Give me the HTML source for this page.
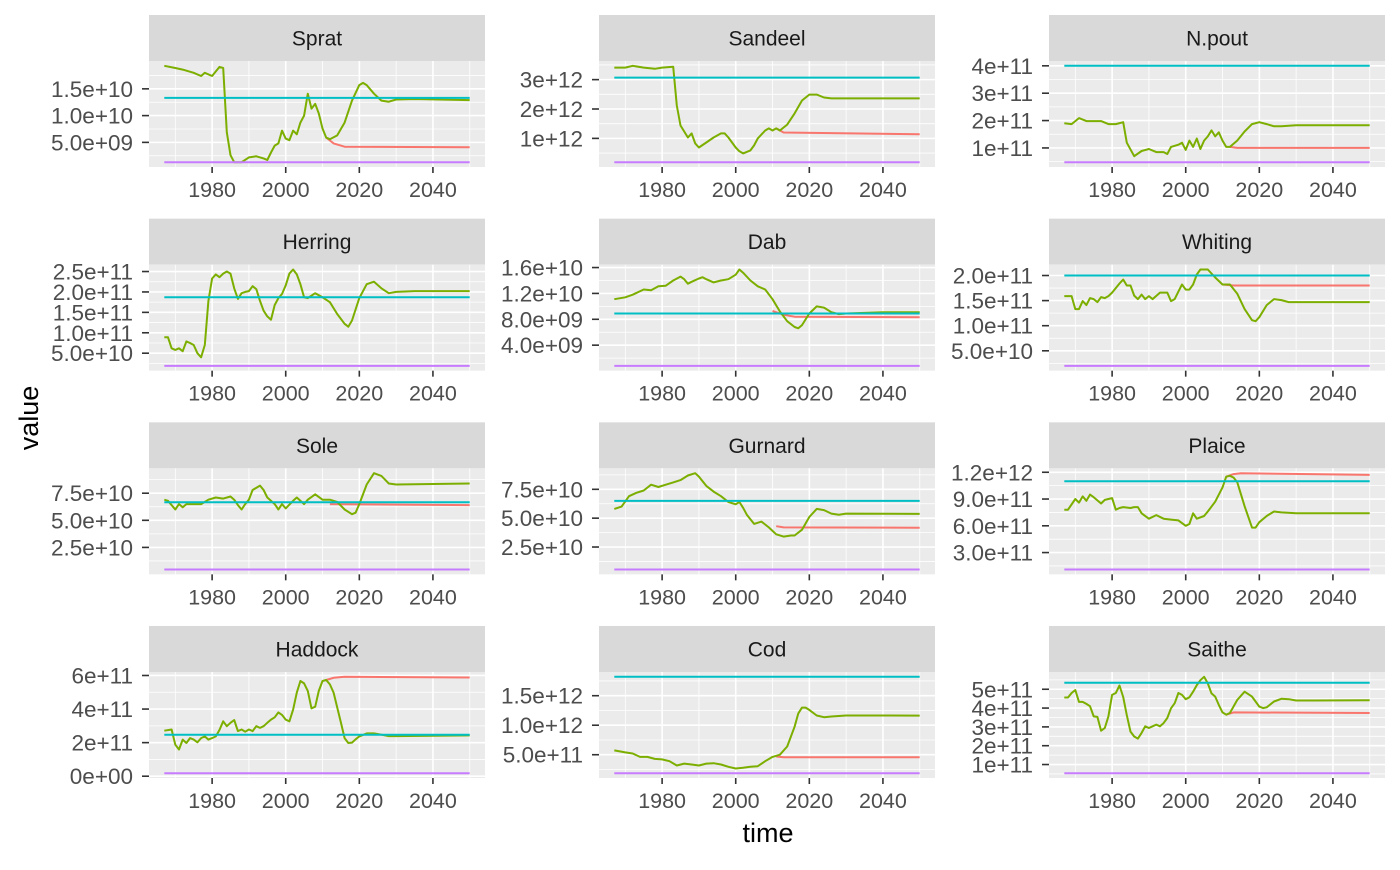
<!DOCTYPE html>
<html><head><meta charset="utf-8"><title>Facet time series</title>
<style>
html,body{margin:0;padding:0;background:#fff;}
svg text{font-family:"Liberation Sans",Arial,sans-serif;}
</style></head>
<body>
<svg id="chart" width="1400" height="865" viewBox="0 0 1400 865" xmlns="http://www.w3.org/2000/svg">
<text x="0" y="0" transform="translate(38,418) rotate(-90)" text-anchor="middle" font-size="27" fill="#000">value</text>
<text x="768" y="842" text-anchor="middle" font-size="27" fill="#000">time</text>
</svg>
<script>
// ---- data (values in the per-panel unit shown by tick labels) ----
const panelNames = ["Sprat","Sandeel","N.pout","Herring","Dab","Whiting","Sole","Gurnard","Plaice","Haddock","Cod","Saithe"];
const xTickYears = [1980,2000,2020,2040];
const xTickLabels = ["1980","2000","2020","2040"];
const xMinorYears = [1970,1990,2010,2030,2050];
const yearStart = 1967;
const yearEnd = 2050;

const spratTicks = [5,10,15];
const spratTickLabels = ["5.0e+09","1.0e+10","1.5e+10"];
const spratGreen = [[1967,19.3],[1970,18.9],[1972,18.6],[1975,18],[1977,17.4],[1978,18],[1980,17.4],[1982,19.1],[1983,18.9],[1984,6.9],[1985,2.6],[1986,1.3],[1988,1.3],[1990,2.2],[1992,2.4],[1994,2.0],[1995,1.7],[1996,3.1],[1997,4.4],[1998,4.8],[1999,7.2],[2000,5.7],[2001,5.4],[2002,7.2],[2003,6.5],[2004,8.7],[2005,10],[2006,14.1],[2007,11.3],[2008,12.2],[2009,10.4],[2010,7.6],[2011,5.9],[2012,5.6],[2014,6.3],[2016,8.7],[2018,12.8],[2020,15.7],[2021,16.1],[2022,15.7],[2024,14.1],[2026,12.8],[2028,12.6],[2030,13],[2035,13.1],[2050,12.9]];
const spratRed = [[2011,5.9],[2013,4.8],[2016,4.2],[2050,4.1]];
const spratCyan = 13.3;
const spratPurple = 1.3;

const sandeelTicks = [1,2,3];
const sandeelTickLabels = ["1e+12","2e+12","3e+12"];
const sandeelGreen = [[1967,3.41],[1970,3.41],[1972,3.47],[1975,3.41],[1978,3.37],[1980,3.41],[1983,3.44],[1984,2.12],[1985,1.44],[1987,1.03],[1988,1.17],[1989,0.83],[1990,0.69],[1992,0.86],[1994,1.03],[1996,1.17],[1997,1.17],[1998,1.03],[2000,0.69],[2001,0.56],[2002,0.49],[2004,0.59],[2005,0.76],[2006,1.0],[2008,1.27],[2009,1.34],[2010,1.27],[2011,1.34],[2012,1.27],[2014,1.47],[2016,1.85],[2018,2.29],[2020,2.49],[2022,2.49],[2024,2.39],[2026,2.36],[2030,2.36],[2050,2.36]];
const sandeelRed = [[2011,1.34],[2013,1.2],[2050,1.14]];
const sandeelCyan = 3.07;
const sandeelPurple = 0.19;

const npoutTicks = [1,2,3,4];
const npoutTickLabels = ["1e+11","2e+11","3e+11","4e+11"];
const npoutGreen = [[1967,1.9],[1969,1.87],[1971,2.09],[1973,1.98],[1975,1.98],[1977,1.98],[1979,1.87],[1981,1.87],[1983,1.94],[1984,1.19],[1986,0.7],[1988,0.89],[1990,0.96],[1992,0.85],[1994,0.85],[1995,0.78],[1996,1.04],[1998,1.12],[1999,1.19],[2000,0.93],[2001,1.27],[2002,1.04],[2003,1.34],[2004,0.96],[2005,1.27],[2006,1.42],[2007,1.64],[2008,1.42],[2009,1.57],[2010,1.27],[2011,1.04],[2012,1.04],[2014,1.27],[2016,1.6],[2018,1.87],[2020,1.94],[2022,1.87],[2024,1.79],[2026,1.79],[2030,1.83],[2050,1.83]];
const npoutRed = [[2012,1.04],[2014,1.0],[2050,1.0]];
const npoutCyan = 4.0;
const npoutPurple = 0.48;

const herringTicks = [5,10,15,20,25];
const herringTickLabels = ["5.0e+10","1.0e+11","1.5e+11","2.0e+11","2.5e+11"];
const herringGreen = [[1967,8.9],[1968,8.9],[1969,6.2],[1970,5.8],[1971,6.2],[1972,5.5],[1973,7.9],[1974,7.5],[1975,7.0],[1976,5.0],[1977,4.0],[1978,7.0],[1979,17.8],[1980,23.3],[1981,24.3],[1982,23.6],[1983,24.5],[1984,25],[1985,24.5],[1986,20.9],[1987,18.3],[1988,19.7],[1989,20.0],[1990,20.2],[1991,21.4],[1992,20.7],[1993,17.8],[1994,15.4],[1995,14.0],[1996,13.2],[1997,16.8],[1998,18.5],[1999,19.5],[2000,21.6],[2001,24.5],[2002,25.5],[2003,24.3],[2004,21.9],[2005,18.7],[2006,18.5],[2008,19.7],[2010,18.7],[2012,17.5],[2014,14.6],[2016,12.2],[2017,11.5],[2018,13.0],[2020,18.5],[2022,21.9],[2024,22.5],[2026,20.9],[2028,19.7],[2030,20.0],[2035,20.2],[2050,20.2]];
const herringRed = [];
const herringCyan = 18.7;
const herringPurple = 1.9;

const dabTicks = [4,8,12,16];
const dabTickLabels = ["4.0e+09","8.0e+09","1.2e+10","1.6e+10"];
const dabGreen = [[1967,11.1],[1970,11.4],[1972,11.8],[1975,12.6],[1977,12.5],[1979,13.1],[1981,13.2],[1983,14.0],[1985,14.6],[1986,14.2],[1987,13.5],[1988,13.8],[1990,14.3],[1991,14.5],[1992,14.2],[1994,13.7],[1996,14.0],[1998,14.2],[2000,14.9],[2001,15.7],[2002,15.2],[2004,14.0],[2006,13.1],[2008,12.6],[2010,11.1],[2012,9.2],[2014,7.7],[2016,6.8],[2017,6.6],[2018,7.1],[2020,8.9],[2022,10.0],[2024,9.8],[2026,9.1],[2028,8.8],[2030,8.9],[2040,9.1],[2050,9.1]];
const dabRed = [[2010,9.3],[2013,8.7],[2016,8.4],[2050,8.3]];
const dabCyan = 8.9;
const dabPurple = 0.8;

const whitingTicks = [5,10,15,20];
const whitingTickLabels = ["5.0e+10","1.0e+11","1.5e+11","2.0e+11"];
const whitingGreen = [[1967,15.9],[1969,15.9],[1970,13.3],[1971,13.3],[1972,14.9],[1973,14.1],[1974,15.5],[1975,15.3],[1976,14.7],[1977,15.7],[1978,15.5],[1979,15.9],[1980,16.6],[1982,18.4],[1983,19.2],[1984,18.0],[1985,18.0],[1986,16.0],[1987,15.3],[1988,16.2],[1989,15.3],[1990,15.9],[1991,15.3],[1993,16.6],[1995,16.6],[1996,14.9],[1997,15.3],[1998,16.8],[1999,18.2],[2000,17.2],[2001,17.2],[2002,18.2],[2003,20.2],[2004,21.2],[2006,21.2],[2008,19.6],[2010,18.2],[2012,18.2],[2014,16.4],[2016,13.3],[2018,11.1],[2019,10.9],[2020,11.7],[2022,14.1],[2024,15.3],[2026,15.1],[2028,14.7],[2030,14.7],[2050,14.7]];
const whitingRed = [[2010,18.2],[2013,18.0],[2050,18.0]];
const whitingCyan = 20;
const whitingPurple = 2.0;

const soleTicks = [2.5,5,7.5];
const soleTickLabels = ["2.5e+10","5.0e+10","7.5e+10"];
const soleGreen = [[1967,6.9],[1968,6.8],[1970,6.0],[1971,6.5],[1972,6.2],[1973,6.5],[1975,6.5],[1977,6.5],[1979,6.9],[1981,7.1],[1983,7.0],[1985,7.2],[1986,6.9],[1987,6.4],[1988,6.0],[1989,6.5],[1990,6.9],[1991,7.8],[1993,8.2],[1994,7.8],[1995,7.1],[1997,6.5],[1998,6.0],[1999,6.5],[2000,6.1],[2002,6.8],[2003,7.1],[2005,6.5],[2006,6.9],[2008,7.4],[2010,6.9],[2012,6.9],[2014,6.7],[2016,6.0],[2018,5.56],[2019,5.7],[2020,6.5],[2022,8.3],[2024,9.35],[2026,9.1],[2028,8.4],[2030,8.3],[2050,8.4]];
const soleRed = [[2012,6.5],[2050,6.4]];
const soleCyan = 6.67;
const solePurple = 0.46;

const gurnardTicks = [2.5,5,7.5];
const gurnardTickLabels = ["2.5e+10","5.0e+10","7.5e+10"];
const gurnardGreen = [[1967,5.8],[1969,6.0],[1971,6.9],[1973,7.2],[1975,7.4],[1977,7.9],[1979,7.7],[1981,7.9],[1983,8.1],[1985,8.3],[1987,8.7],[1989,8.9],[1990,8.6],[1992,7.8],[1994,7.3],[1996,6.9],[1998,6.4],[2000,6.2],[2001,6.4],[2002,5.9],[2003,5.3],[2005,4.5],[2007,4.7],[2009,4.2],[2011,3.6],[2013,3.4],[2015,3.5],[2016,3.5],[2018,4.0],[2020,5.1],[2022,5.8],[2024,5.7],[2026,5.4],[2028,5.3],[2030,5.4],[2050,5.37]];
const gurnardRed = [[2011,4.3],[2013,4.2],[2050,4.17]];
const gurnardCyan = 6.5;
const gurnardPurple = 0.55;

const plaiceTicks = [3,6,9,12];
const plaiceTickLabels = ["3.0e+11","6.0e+11","9.0e+11","1.2e+12"];
const plaiceGreen = [[1967,7.8],[1968,7.8],[1970,9.0],[1971,8.6],[1972,9.3],[1973,8.8],[1974,9.5],[1975,9.2],[1977,8.5],[1978,8.9],[1980,9.1],[1981,7.8],[1982,8.0],[1983,8.1],[1985,8.0],[1986,8.1],[1987,8.1],[1988,7.4],[1990,6.8],[1992,7.2],[1994,6.8],[1996,6.7],[1998,6.6],[2000,6.0],[2001,6.2],[2002,7.4],[2003,6.8],[2005,7.1],[2006,7.6],[2008,8.7],[2010,10.3],[2011,11.5],[2012,11.6],[2013,11.4],[2014,10.9],[2016,8.2],[2018,5.8],[2019,5.8],[2020,6.4],[2022,7.1],[2024,7.6],[2026,7.5],[2030,7.4],[2050,7.4]];
const plaiceRed = [[2011,11.5],[2013,11.8],[2015,11.9],[2050,11.7]];
const plaiceCyan = 11.0;
const plaicePurple = 1.1;

const haddockTicks = [0,2,4,6];
const haddockTickLabels = ["0e+00","2e+11","4e+11","6e+11"];
const haddockGreen = [[1967,2.71],[1969,2.78],[1970,1.88],[1971,1.59],[1972,2.18],[1973,1.98],[1974,2.27],[1975,2.18],[1976,2.02],[1977,2.27],[1978,2.37],[1979,2.18],[1980,2.27],[1981,2.37],[1982,2.76],[1983,3.27],[1984,2.98],[1985,3.18],[1986,3.35],[1987,2.69],[1988,2.78],[1989,2.65],[1990,2.78],[1991,2.69],[1992,2.98],[1993,2.88],[1994,2.98],[1995,3.18],[1996,3.37],[1997,3.51],[1998,3.8],[1999,3.65],[2000,3.37],[2001,3.27],[2002,3.96],[2003,4.98],[2004,5.67],[2005,5.53],[2006,5.08],[2007,4.04],[2008,4.14],[2009,5.08],[2010,5.67],[2011,5.73],[2012,5.47],[2013,4.98],[2014,4.1],[2015,3.2],[2016,2.27],[2017,1.98],[2018,2.0],[2019,2.2],[2020,2.37],[2022,2.55],[2024,2.55],[2026,2.47],[2028,2.39],[2030,2.39],[2050,2.43]];
const haddockRed = [[2011,5.73],[2013,5.86],[2016,5.92],[2050,5.88]];
const haddockCyan = 2.47;
const haddockPurple = 0.18;

const codTicks = [5,10,15];
const codTickLabels = ["5.0e+11","1.0e+12","1.5e+12"];
const codGreen = [[1967,5.74],[1970,5.4],[1972,5.2],[1974,4.63],[1976,4.63],[1978,4.3],[1980,4.2],[1982,3.9],[1984,3.17],[1986,3.5],[1988,3.34],[1990,3.17],[1992,3.5],[1994,3.56],[1996,3.34],[1998,2.95],[2000,2.66],[2002,2.78],[2004,2.95],[2006,3.06],[2008,3.9],[2010,4.63],[2012,5.0],[2014,6.4],[2016,9.75],[2017,12.0],[2018,12.98],[2019,12.98],[2020,12.6],[2022,11.64],[2024,11.36],[2026,11.47],[2030,11.64],[2050,11.63]];
const codRed = [[2011,4.7],[2013,4.56],[2050,4.56]];
const codCyan = 18.2;
const codPurple = 1.87;

const saitheTicks = [1,2,3,4,5];
const saitheTickLabels = ["1e+11","2e+11","3e+11","4e+11","5e+11"];
const saitheGreen = [[1967,4.56],[1968,4.56],[1969,4.8],[1970,4.96],[1971,4.33],[1972,4.33],[1973,4.22],[1974,4.1],[1975,3.56],[1976,3.53],[1977,2.8],[1978,2.94],[1979,3.56],[1980,4.7],[1981,4.8],[1982,5.2],[1983,4.59],[1984,3.62],[1985,2.75],[1986,2.49],[1987,2.38],[1988,2.68],[1989,3.03],[1990,2.94],[1991,3.03],[1992,3.12],[1993,3.03],[1994,3.2],[1995,3.47],[1996,3.99],[1997,4.26],[1998,4.8],[1999,4.7],[2000,4.47],[2001,4.57],[2002,4.87],[2003,5.22],[2004,5.48],[2005,5.66],[2006,5.31],[2007,4.78],[2008,4.61],[2009,4.17],[2010,3.77],[2011,3.65],[2012,3.74],[2014,4.43],[2016,4.87],[2018,4.61],[2020,4.08],[2021,4.0],[2022,4.04],[2024,4.35],[2026,4.49],[2028,4.47],[2030,4.4],[2035,4.4],[2050,4.42]];
const saitheRed = [[2011,3.65],[2013,3.77],[2050,3.74]];
const saitheCyan = 5.35;
const saithePurple = 0.54;

const panelTicks = [spratTicks,sandeelTicks,npoutTicks,herringTicks,dabTicks,whitingTicks,soleTicks,gurnardTicks,plaiceTicks,haddockTicks,codTicks,saitheTicks];
const panelTickLabels = [spratTickLabels,sandeelTickLabels,npoutTickLabels,herringTickLabels,dabTickLabels,whitingTickLabels,soleTickLabels,gurnardTickLabels,plaiceTickLabels,haddockTickLabels,codTickLabels,saitheTickLabels];
const panelGreen = [spratGreen,sandeelGreen,npoutGreen,herringGreen,dabGreen,whitingGreen,soleGreen,gurnardGreen,plaiceGreen,haddockGreen,codGreen,saitheGreen];
const panelRed = [spratRed,sandeelRed,npoutRed,herringRed,dabRed,whitingRed,soleRed,gurnardRed,plaiceRed,haddockRed,codRed,saitheRed];
const panelCyan = [spratCyan,sandeelCyan,npoutCyan,herringCyan,dabCyan,whitingCyan,soleCyan,gurnardCyan,plaiceCyan,haddockCyan,codCyan,saitheCyan];
const panelPurple = [spratPurple,sandeelPurple,npoutPurple,herringPurple,dabPurple,whitingPurple,solePurple,gurnardPurple,plaicePurple,haddockPurple,codPurple,saithePurple];

// ---- layout ----
const NS = "http://www.w3.org/2000/svg";
const svg = document.getElementById("chart");
const PW = 336, PH = 106, SH = 46;
function mk(tag, attrs, parent){
  const e = document.createElementNS(NS, tag);
  for (const k in attrs) e.setAttribute(k, attrs[k]);
  parent.appendChild(e);
  return e;
}
const xr = yearEnd - yearStart, x0 = yearStart - 0.05*xr, x1 = yearEnd + 0.05*xr;

panelNames.forEach(function(name, i){
  const col = i % 3, row = Math.floor(i / 3);
  const left = 149 + col*450;
  const stripTop = 15 + row*203.67;
  const top = stripTop + SH;
  const g = mk("g", {}, svg);
  
  

  const green = panelGreen[i], red = panelRed[i], cyan = panelCyan[i], purple = panelPurple[i];
  let vals = [cyan, purple];
  green.forEach(p => vals.push(p[1]));
  red.forEach(p => vals.push(p[1]));
  const vmin = Math.min.apply(null, vals), vmax = Math.max.apply(null, vals);
  const vr = vmax - vmin, y0 = vmin - 0.05*vr, y1 = vmax + 0.05*vr;
  const sx = yr => left + (yr - x0) / (x1 - x0) * PW;
  const sy = v => top + PH - (v - y0) / (y1 - y0) * PH;

  const strip = mk("rect", {x:left, y:stripTop, width:PW, height:SH, fill:"#D9D9D9"}, g);
  
  
  const st = mk("text", {x:left+PW/2, y:stripTop+SH/2+7.5, "text-anchor":"middle", "font-size":"21", fill:"#1A1A1A"}, g);
  
  
  st.textContent = name;

  const bg = mk("rect", {x:left, y:top, width:PW, height:PH, fill:"#EBEBEB"}, g);
  
  

  xMinorYears.forEach(yr => {
    const x = sx(yr);
    if (x >= left && x <= left+PW) {
      const l = mk("line", {x1:x, x2:x, y1:top, y2:top+PH, stroke:"#fff", "stroke-width":"0.8"}, g);
      
      
    }
  });
  const ticks = panelTicks[i];
  const step = ticks[1] - ticks[0];
  for (let k = -3; k <= ticks.length + 3; k++) {
    const v = ticks[0] - step/2 + k*step;
    const y = sy(v);
    if (y >= top && y <= top+PH) {
      const l = mk("line", {x1:left, x2:left+PW, y1:y, y2:y, stroke:"#fff", "stroke-width":"0.8"}, g);
      
      
    }
  }
  xTickYears.forEach((yr, j) => {
    const x = sx(yr);
    const l = mk("line", {x1:x, x2:x, y1:top, y2:top+PH, stroke:"#fff", "stroke-width":"1.6"}, g);
    
    
    const t = mk("line", {x1:x, x2:x, y1:top+PH, y2:top+PH+6, stroke:"#333", "stroke-width":"1.6"}, g);
    
    
    const lab = mk("text", {x:x, y:top+PH+30, "text-anchor":"middle", "font-size":"21.5", fill:"#4D4D4D"}, g);
    
    
    lab.textContent = xTickLabels[j];
  });
  ticks.forEach((v, j) => {
    const y = sy(v);
    const l = mk("line", {x1:left, x2:left+PW, y1:y, y2:y, stroke:"#fff", "stroke-width":"1.6"}, g);
    
    
    const t = mk("line", {x1:left-7, x2:left, y1:y, y2:y, stroke:"#333", "stroke-width":"1.6"}, g);
    
    
    const lab = mk("text", {x:left-16, y:y+8, "text-anchor":"end", "font-size":"22.5", fill:"#4D4D4D"}, g);
    
    
    lab.textContent = panelTickLabels[i][j];
  });

  function poly(pts, color, nm){
    if (!pts.length) return;
    const p = mk("polyline", {points: pts.map(q => sx(q[0]).toFixed(1)+","+sy(q[1]).toFixed(1)).join(" "), fill:"none", stroke:color, "stroke-width":"2", "stroke-linejoin":"round"}, g);
    
    
  }
  poly(red, "#F8766D", "series-red");
  poly(green, "#7CAE00", "series-green");
  poly([[yearStart, cyan],[yearEnd, cyan]], "#00BFC4", "series-cyan");
  poly([[yearStart, purple],[yearEnd, purple]], "#C77CFF", "series-purple");
});
</script>
</body></html>
